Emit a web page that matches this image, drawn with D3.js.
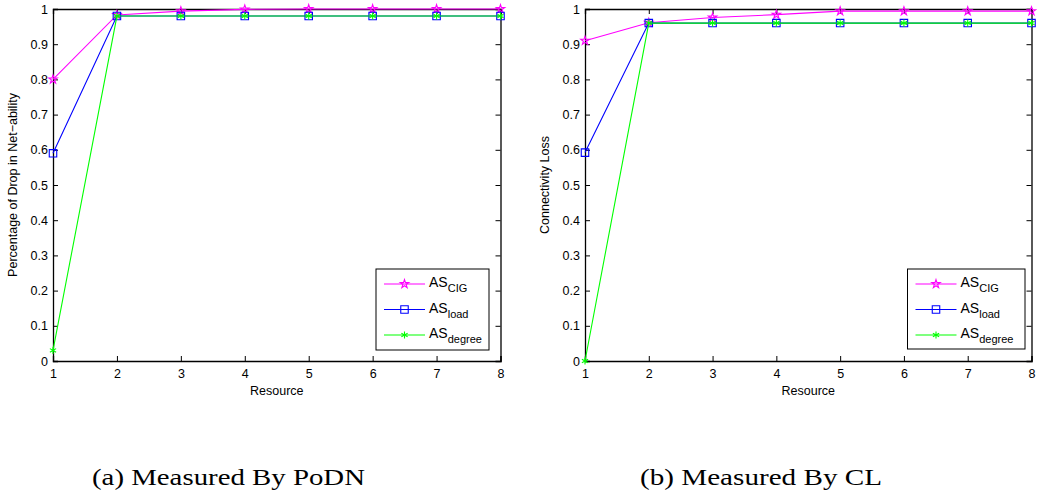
<!DOCTYPE html>
<html>
<head>
<meta charset="utf-8">
<script src="https://cdn.jsdelivr.net/npm/d3@7"></script>
<style>
  html, body { margin: 0; padding: 0; background: #fff; }
  svg { display: block; }
  text { font-family: "Liberation Sans", Arial, Helvetica, sans-serif; fill: #000; }
  .caption { font-family: "Liberation Serif", "DejaVu Serif", serif; }
</style>
</head>
<body>
<svg id="chart" width="1037" height="498"></svg>
<script>
// Resource counts on the x axis
const resources = [1, 2, 3, 4, 5, 6, 7, 8];
const xTicks = [1, 2, 3, 4, 5, 6, 7, 8];
const yTicks = [0, 0.1, 0.2, 0.3, 0.4, 0.5, 0.6, 0.7, 0.8, 0.9, 1];

// Panel (a): percentage of drop in net-ability
const podnCIG    = [0.80, 0.983, 0.994, 0.999, 1.0, 1.0, 1.0, 1.0];
const podnLoad   = [0.59, 0.98, 0.98, 0.98, 0.98, 0.98, 0.98, 0.98];
const podnDegree = [0.03, 0.98, 0.98, 0.98, 0.98, 0.98, 0.98, 0.98];

// Panel (b): connectivity loss
const clCIG    = [0.91, 0.961, 0.976, 0.984, 0.994, 0.994, 0.994, 0.994];
const clLoad   = [0.592, 0.96, 0.96, 0.96, 0.96, 0.96, 0.96, 0.96];
const clDegree = [0.0, 0.96, 0.96, 0.96, 0.96, 0.96, 0.96, 0.96];

const seriesStyles = [
  { key: "CIG",    base: "AS", sub: "CIG",    color: "#ff00ff", symbol: d3.symbolStar,     size: 22 },
  { key: "load",   base: "AS", sub: "load",   color: "#0000ff", symbol: d3.symbolSquare,   size: 56 },
  { key: "degree", base: "AS", sub: "degree", color: "#00ff00", symbol: d3.symbolAsterisk, size: 36 }
];

const svg = d3.select("#chart");

function drawPanel(opts) {
  const { left, right, top, bottom, values, yLabel, caption, captionX, captionW, legend } = opts;
  const x = d3.scaleLinear().domain([1, 8]).range([left, right]);
  const y = d3.scaleLinear().domain([0, 1]).range([bottom, top]);
  const g = svg.append("g");

  // inward ticks on all four sides
  const tick = 5;
  const axB = d3.axisBottom(x).tickValues(xTicks).tickSize(-tick).tickPadding(8).tickFormat(d3.format("d"));
  const axT = d3.axisTop(x).tickValues(xTicks).tickSize(-tick).tickFormat("");
  const axL = d3.axisLeft(y).tickValues(yTicks).tickSize(-tick).tickPadding(5).tickFormat(d => d === 0 || d === 1 ? d3.format("d")(d) : d3.format(".1f")(d));
  const axR = d3.axisRight(y).tickValues(yTicks).tickSize(-tick).tickFormat("");

  [[axB, `translate(0,${bottom})`], [axT, `translate(0,${top})`],
   [axL, `translate(${left},0)`], [axR, `translate(${right},0)`]].forEach(([ax, tr]) => {
    const a = g.append("g").attr("transform", tr).call(ax);
    a.select(".domain").attr("stroke", "#000").attr("stroke-width", 1.3);
    a.selectAll(".tick line").attr("stroke", "#000");
    a.selectAll(".tick text").style("font-size", "12.5px").attr("fill", "#000");
  });

  // series lines and markers
  seriesStyles.forEach((s, i) => {
    const vals = values[i];
    const line = d3.line().x((d, j) => x(resources[j])).y(d => y(d));
    g.append("path").datum(vals)
      .attr("d", line).attr("fill", "none")
      .attr("stroke", s.color).attr("stroke-width", 1.1);
    g.selectAll(null).data(vals).enter().append("path")
      .attr("transform", (d, j) => `translate(${x(resources[j])},${y(d)})`)
      .attr("d", d3.symbol(s.symbol, s.size))
      .attr("fill", "none").attr("stroke", s.color).attr("stroke-width", 1.1);
  });

  // axis titles
  g.append("text").attr("x", (left + right) / 2).attr("y", 395)
    .attr("text-anchor", "middle").style("font-size", "12.5px").text("Resource");
  g.append("text")
    .attr("transform", `translate(${left - 36},${(top + bottom) / 2}) rotate(-90)`)
    .attr("text-anchor", "middle").style("font-size", "12.5px").text(yLabel);

  // legend box
  const lg = g.append("g");
  lg.append("rect").attr("x", legend.x).attr("y", legend.y)
    .attr("width", legend.w).attr("height", legend.h)
    .attr("fill", "#fff").attr("stroke", "#000").attr("stroke-width", 1);
  seriesStyles.forEach((s, i) => {
    const ry = legend.y + 15 + i * 25.5;
    const x0 = legend.x + 8, x1 = legend.x + 49, xm = (x0 + x1) / 2;
    lg.append("line").attr("x1", x0).attr("x2", x1).attr("y1", ry).attr("y2", ry)
      .attr("stroke", s.color).attr("stroke-width", 1.1);
    lg.append("path").attr("transform", `translate(${xm},${ry})`)
      .attr("d", d3.symbol(s.symbol, s.size))
      .attr("fill", "none").attr("stroke", s.color).attr("stroke-width", 1.1);
    const t = lg.append("text").attr("x", legend.x + 53).attr("y", ry + 3).style("font-size", "14px");
    t.append("tspan").text(s.base);
    t.append("tspan").attr("dy", 5).style("font-size", "11px").text(s.sub);
  });

  // sub-figure caption
  svg.append("text").attr("class", "caption")
    .attr("x", captionX).attr("y", 485)
    .attr("textLength", captionW).attr("lengthAdjust", "spacingAndGlyphs")
    .style("font-size", "23px").text(caption);
}

drawPanel({
  left: 53, right: 500.5, top: 9, bottom: 361,
  values: [podnCIG, podnLoad, podnDegree],
  yLabel: "Percentage of Drop in Net\u2212ability",
  caption: "(a) Measured By PoDN", captionX: 92, captionW: 273,
  legend: { x: 376, y: 269, w: 113, h: 81 }
});

drawPanel({
  left: 585, right: 1031.5, top: 9, bottom: 361,
  values: [clCIG, clLoad, clDegree],
  yLabel: "Connectivity Loss",
  caption: "(b) Measured By CL", captionX: 640, captionW: 242,
  legend: { x: 907.5, y: 269, w: 117.5, h: 80 }
});
</script>
</body>
</html>
